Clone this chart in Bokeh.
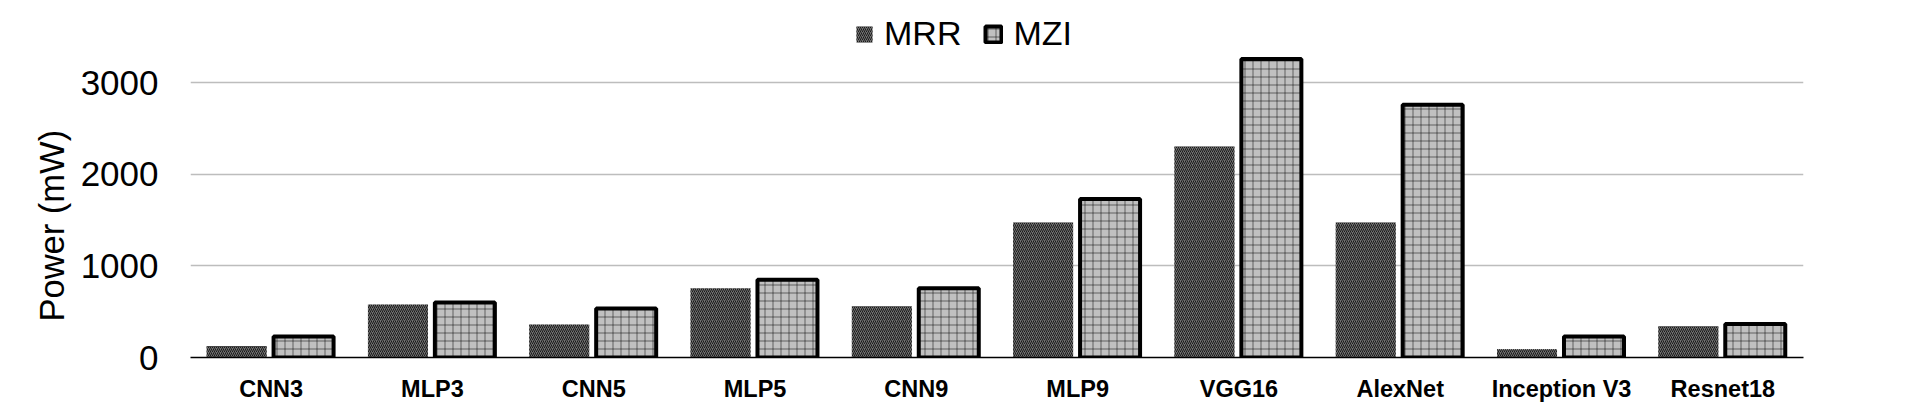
from bokeh.plotting import figure
from bokeh.models import ColumnDataSource, FactorRange, Range1d, Legend, LegendItem, Title, FixedTicker
from bokeh.transform import dodge
from bokeh.embed import file_html
from bokeh.resources import INLINE

categories = ["CNN3", "MLP3", "CNN5", "MLP5", "CNN9", "MLP9", "VGG16", "AlexNet", "Inception V3", "Resnet18"]
mrr = [125, 580, 360, 755, 560, 1475, 2305, 1475, 90, 340]
mzi = [230, 600, 535, 850, 755, 1730, 3260, 2760, 230, 365]
y_ticks = [0, 1000, 2000, 3000]

FONT = "Liberation Sans"

src = ColumnDataSource(dict(cat=categories, mrr=mrr, mzi=mzi))

W, H = 1904, 406
frame_left, frame_right = 190, 101
frame_bottom = 49
frame_top = 10
y_end = 3789

p = figure(width=W, height=H, output_backend="svg", toolbar_location=None,
           x_range=FactorRange(*categories, range_padding=0), y_range=Range1d(0, y_end),
           min_border_left=frame_left, min_border_right=frame_right,
           min_border_top=frame_top, min_border_bottom=frame_bottom)
p.outline_line_color = None
p.background_fill_color = "white"
p.border_fill_color = "white"

r1 = p.vbar(x=dodge("cat", -0.214, range=p.x_range), top="mrr", width=0.372, source=src,
            fill_color="#707070", line_color=None,
            hatch_pattern="right_diagonal_line", hatch_color="#1a1a1a", hatch_scale=4, hatch_weight=1)
r2 = p.vbar(x=dodge("cat", 0.201, range=p.x_range), top="mzi", width=0.372, source=src,
            fill_color="#c0c0c0", line_color="black", line_width=4,
            hatch_pattern="cross", hatch_color="black", hatch_alpha=0.5, hatch_scale=8, hatch_weight=1)

# axes
p.yaxis.ticker = FixedTicker(ticks=y_ticks)
p.yaxis.axis_line_color = None
p.yaxis.major_tick_line_color = None
p.yaxis.minor_tick_line_color = None
p.yaxis.major_tick_out = 0
p.yaxis.major_tick_in = 0
p.yaxis.major_label_standoff = 32
p.yaxis.major_label_text_font = FONT
p.yaxis.major_label_text_font_size = "35px"
p.yaxis.major_label_text_color = "black"

p.xaxis.axis_line_color = "black"
p.xaxis.axis_line_width = 1.5
p.xaxis.major_tick_line_color = None
p.xaxis.minor_tick_line_color = None
p.xaxis.major_tick_out = 0
p.xaxis.major_tick_in = 0
p.xaxis.major_label_standoff = 18
p.xaxis.major_label_text_font = FONT
p.xaxis.major_label_text_font_style = "bold"
p.xaxis.major_label_text_font_size = "23.5px"
p.xaxis.major_label_text_color = "black"

p.xgrid.grid_line_color = None
p.ygrid.ticker = FixedTicker(ticks=[1000, 2000, 3000])
p.ygrid.grid_line_color = "#bdbdbd"
p.ygrid.grid_line_width = 1.5

# y axis title, starting a little above the baseline
ytitle = Title(text="Power (mW)", align="left", offset=36, standoff=14,
               text_font=FONT, text_font_size="34.5px", text_font_style="normal", text_color="black")
p.add_layout(ytitle, "left")

legend = Legend(items=[LegendItem(label="MRR", renderers=[r1]), LegendItem(label="MZI", renderers=[r2])],
                orientation="horizontal", location=(664, 304),
                glyph_width=20, glyph_height=20, label_standoff=10, spacing=22,
                padding=0, margin=0, border_line_color=None, background_fill_alpha=0,
                label_text_font=FONT, label_text_font_size="34px", label_text_color="black")
p.add_layout(legend)

open("out.html", "w").write(file_html(p, INLINE))
